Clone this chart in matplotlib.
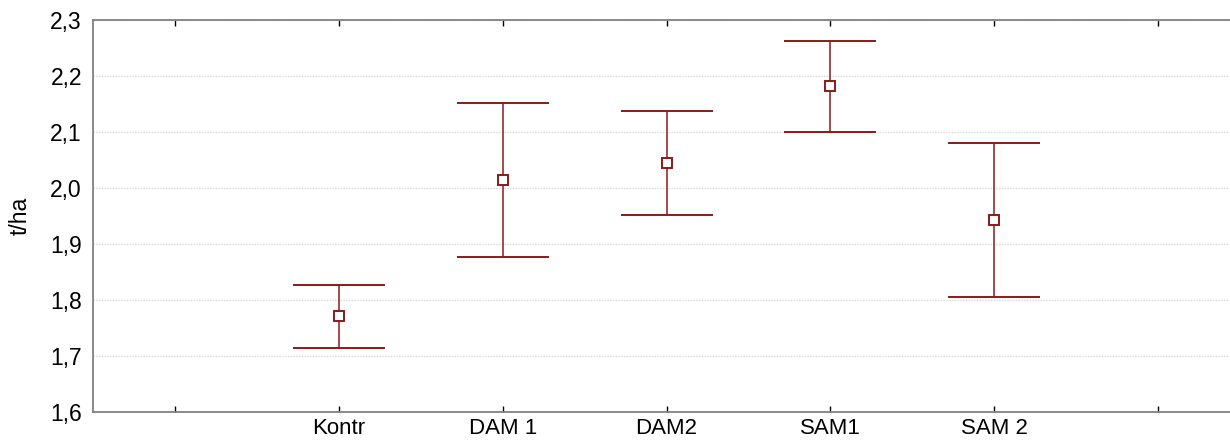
import matplotlib
matplotlib.use("Agg")
import matplotlib.pyplot as plt
from matplotlib.ticker import FuncFormatter, MultipleLocator
import numpy as np

plt.rcParams['font.family'] = ['Liberation Sans', 'DejaVu Sans']

# Treatment groups and yield estimates (t/ha)
categories = ["Kontr", "DAM 1", "DAM2", "SAM1", "SAM 2"]
means = [1.771, 2.015, 2.045, 2.182, 1.942]
upper = [1.827, 2.151, 2.137, 2.262, 2.080]
lower = [1.714, 1.877, 1.952, 2.100, 1.805]

W, H, DPI = 1230, 445, 100
fig = plt.figure(figsize=(W / DPI, H / DPI), dpi=DPI)
ax = fig.add_axes([93 / W, 33 / H, (1240 - 93) / W, 392 / H])

red = "#8b1a1a"
x = np.arange(1, len(categories) + 1)
m = np.array(means)
yerr = np.vstack([m - np.array(lower), np.array(upper) - m])
ax.errorbar(x, m, yerr=yerr, fmt="s", color=red, ecolor=red,
            elinewidth=1.1, capsize=33, capthick=1.1,
            markersize=7.5, markerfacecolor="white", markeredgecolor=red,
            markeredgewidth=1.4, zorder=3)

ax.set_xlim(-0.5, len(categories) + 1.5)
ax.set_ylim(1.6, 2.3)
ax.set_xticks(np.arange(0, len(categories) + 2))
ax.set_xticklabels([""] + categories + [""], fontsize=16)
ax.yaxis.set_major_locator(MultipleLocator(0.1))
ax.yaxis.set_major_formatter(FuncFormatter(lambda v, p: f"{v:.1f}".replace(".", ",")))
ax.tick_params(axis="y", length=0, pad=8, labelsize=16.5)
ax.tick_params(axis="x", direction="in", length=4, width=1, color="black",
               top=True, pad=4)

ax.grid(axis="y", color="#d8d8d8", linestyle=(0, (1, 1)), linewidth=1)
ax.set_axisbelow(True)

for s in ["top", "bottom", "left"]:
    ax.spines[s].set_color("#808080")
    ax.spines[s].set_linewidth(1.3)
ax.spines["right"].set_visible(False)

ax.set_ylabel("t/ha", fontsize=16.5, labelpad=13)

fig.savefig("out.png", dpi=DPI)
